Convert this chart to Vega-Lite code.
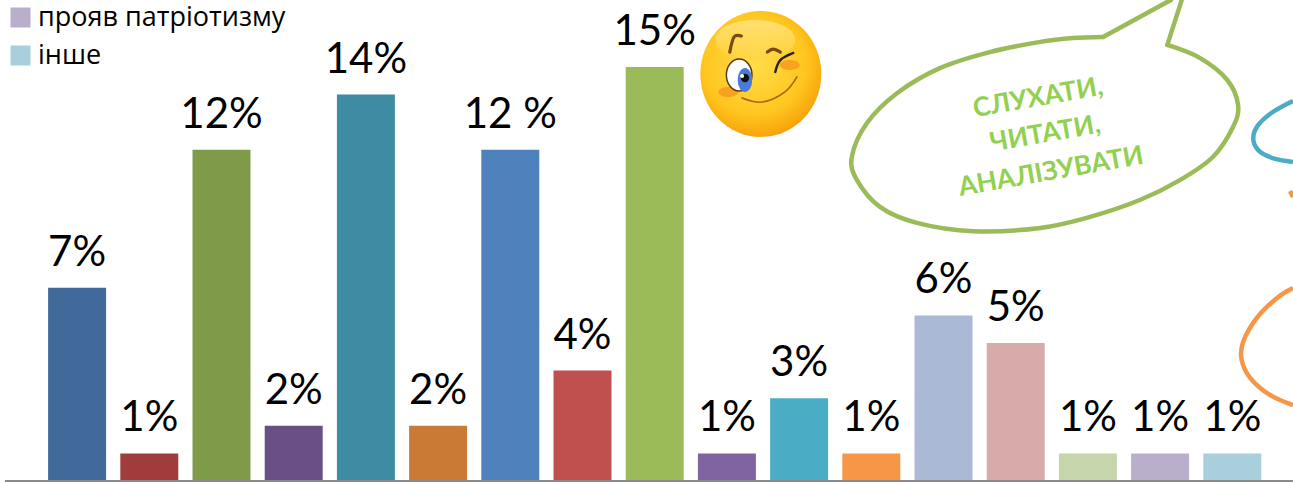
{
"$schema":"https://vega.github.io/schema/vega-lite/v6.json",
"width":1293,"height":482,"padding":0,"autosize":{"type":"none"},"background":"white",
"config":{"view":{"stroke":null}},
"datasets":{
"bars":[
{"category":"категорія 1","value":7,"label":"7%"},
{"category":"категорія 2","value":1,"label":"1%"},
{"category":"категорія 3","value":12,"label":"12%"},
{"category":"категорія 4","value":2,"label":"2%"},
{"category":"категорія 5","value":14,"label":"14%"},
{"category":"категорія 6","value":2,"label":"2%"},
{"category":"категорія 7","value":12,"label":"12 %"},
{"category":"категорія 8","value":4,"label":"4%"},
{"category":"категорія 9","value":15,"label":"15%"},
{"category":"категорія 10","value":1,"label":"1%"},
{"category":"категорія 11","value":3,"label":"3%"},
{"category":"категорія 12","value":1,"label":"1%"},
{"category":"категорія 13","value":6,"label":"6%"},
{"category":"категорія 14","value":5,"label":"5%"},
{"category":"категорія 15","value":1,"label":"1%"},
{"category":"прояв патріотизму","value":1,"label":"1%"},
{"category":"інше","value":1,"label":"1%"}],
"outlines":[
{"s":"bubble","i":0,"a":14.71,"b":16.09},{"s":"bubble","i":1,"a":14.29,"b":16.05},{"s":"bubble","i":2,"a":13.84,"b":15.91},{"s":"bubble","i":3,"a":13.14,"b":15.54},{"s":"bubble","i":4,"a":12.45,"b":14.96},{"s":"bubble","i":5,"a":11.86,"b":14.06},{"s":"bubble","i":6,"a":11.44,"b":12.97},{"s":"bubble","i":7,"a":11.23,"b":11.74},{"s":"bubble","i":8,"a":11.30,"b":10.91},{"s":"bubble","i":9,"a":11.62,"b":9.93},{"s":"bubble","i":10,"a":12.13,"b":9.35},{"s":"bubble","i":11,"a":12.91,"b":9.05},{"s":"bubble","i":12,"a":13.84,"b":9.17},{"s":"bubble","i":13,"a":14.53,"b":9.57},{"s":"bubble","i":14,"a":15.22,"b":10.18},{"s":"bubble","i":15,"a":15.78,"b":10.91},{"s":"bubble","i":16,"a":16.23,"b":11.74},{"s":"bubble","i":17,"a":16.51,"b":12.83},{"s":"bubble","i":18,"a":16.58,"b":13.62},{"s":"bubble","i":19,"a":16.43,"b":14.53},{"s":"bubble","i":20,"a":16.05,"b":15.33},{"s":"bubble","i":21,"a":15.60,"b":15.80},
{"s":"tailL","i":0,"a":14.71,"b":16.09},{"s":"tailL","i":1,"a":15.65,"b":17.43},
{"s":"tailR","i":0,"a":15.80,"b":17.43},{"s":"tailR","i":1,"a":15.60,"b":15.80},
{"s":"blue","i":0,"a":17.34,"b":13.77},{"s":"blue","i":1,"a":17.06,"b":13.37},{"s":"blue","i":2,"a":16.86,"b":12.90},{"s":"blue","i":3,"a":16.79,"b":12.43},{"s":"blue","i":4,"a":16.86,"b":11.99},{"s":"blue","i":5,"a":17.06,"b":11.70},{"s":"blue","i":6,"a":17.34,"b":11.56},
{"s":"orange","i":0,"a":17.34,"b":6.99},{"s":"orange","i":1,"a":17.12,"b":6.63},{"s":"orange","i":2,"a":16.84,"b":5.91},{"s":"orange","i":3,"a":16.65,"b":5.04},{"s":"orange","i":4,"a":16.63,"b":4.38},{"s":"orange","i":5,"a":16.75,"b":3.73},{"s":"orange","i":6,"a":17.02,"b":3.12},{"s":"orange","i":7,"a":17.34,"b":2.75},
{"s":"orangeTick","i":0,"a":17.30,"b":10.51},{"s":"orangeTick","i":1,"a":17.34,"b":10.29}],
"bubbleText":[
{"t":"СЛУХАТИ,","a":13.81,"b":13.88},{"t":"ЧИТАТИ,","a":13.91,"b":12.57},{"t":"АНАЛІЗУВАТИ","a":13.99,"b":11.20}],
"face":[
{"part":"face","a":9.97,"b":14.75},{"part":"gloss","a":9.89,"b":15.98},{"part":"cheek","a":9.52,"b":14.09},{"part":"cheek","a":10.37,"b":15.07},{"part":"eye","a":9.67,"b":14.71},{"part":"iris","a":9.75,"b":14.53},{"part":"pupil","a":9.75,"b":14.60},{"part":"glint","a":9.71,"b":14.67}],
"faceLines":[
{"s":"browL","i":0,"a":9.54,"b":15.54},{"s":"browL","i":1,"a":9.60,"b":16.09},{"s":"browL","i":2,"a":9.70,"b":16.12},
{"s":"browR","i":0,"a":10.06,"b":15.54},{"s":"browR","i":1,"a":10.14,"b":15.65},{"s":"browR","i":2,"a":10.24,"b":15.54},
{"s":"wink","i":0,"a":10.17,"b":14.82},{"s":"wink","i":1,"a":10.24,"b":15.25},{"s":"wink","i":2,"a":10.42,"b":15.51},
{"s":"smile","i":0,"a":9.71,"b":13.88},{"s":"smile","i":1,"a":9.99,"b":13.73},{"s":"smile","i":2,"a":10.30,"b":14.09},{"s":"smile","i":3,"a":10.47,"b":14.64}],
"baseline":[{"from":-0.5,"to":17.34,"level":0}]
},
"resolve":{"scale":{"x":"independent"}},
"layer":[
{"data":{"name":"bars"},"mark":{"type":"bar"},
 "encoding":{
 "x":{"field":"category","type":"nominal","sort":null,"axis":null,"scale":{"type":"band","range":[41,1268.4],"paddingInner":0.197,"paddingOuter":0.0985}},
 "y":{"field":"value","type":"quantitative","axis":null,"scale":{"domain":[0,15],"range":[481,67],"nice":false,"zero":true}},
 "color":{"field":"category","type":"nominal","sort":null,
  "scale":{"domain":["категорія 1","категорія 2","категорія 3","категорія 4","категорія 5","категорія 6","категорія 7","категорія 8","категорія 9","категорія 10","категорія 11","категорія 12","категорія 13","категорія 14","категорія 15","прояв патріотизму","інше"],
  "range":["#41699A","#9E3D3B","#7F9A48","#6A4F85","#3D8CA3","#CB7A35","#4F81BD","#C0504D","#9BBB59","#8064A2","#4BACC6","#F79646","#AAB9D6","#D9AAAA","#C6D5AB","#B9AFCA","#A9CEDC"]},
  "legend":{"orient":"none","legendX":7,"legendY":4,"title":null,"values":["прояв патріотизму","інше"],"symbolType":"square","symbolSize":400,"symbolStrokeWidth":0,"labelFont":"Open Sans","labelFontSize":27,"labelColor":"#000000","labelLimit":400,"labelOffset":4,"rowPadding":10,"padding":0}}
 }},
{"data":{"name":"bars"},"mark":{"type":"text","font":"Lato","fontSize":42,"color":"#000000","baseline":"alphabetic","dy":-22},
 "encoding":{
 "x":{"field":"category","type":"nominal","sort":null,"axis":null,"scale":{"type":"band","range":[41,1268.4],"paddingInner":0.197,"paddingOuter":0.0985}},
 "y":{"field":"value","type":"quantitative","axis":null},
 "text":{"field":"label"}}},
{"data":{"name":"baseline"},"mark":{"type":"rule","color":"#898989","strokeWidth":2},
 "encoding":{
 "x":{"field":"from","type":"quantitative","axis":null,"scale":{"domain":[0,17],"range":[41,1268.4],"nice":false,"zero":false}},
 "x2":{"field":"to"},
 "y":{"field":"level","type":"quantitative","axis":null}}},
{"data":{"name":"outlines"},"transform":[{"filter":"datum.s==='bubble'"}],"mark":{"type":"line","color":"#9BBB59","strokeWidth":4.5,"interpolate":"cardinal","strokeCap":"round"},
 "encoding":{
 "x":{"field":"a","type":"quantitative","axis":null,"scale":{"domain":[0,17],"range":[41,1268.4],"nice":false,"zero":false}},
 "y":{"field":"b","type":"quantitative","axis":null},
 "order":{"field":"i"}}},
{"data":{"name":"outlines"},"transform":[{"filter":"datum.s==='tailL'||datum.s==='tailR'"}],"mark":{"type":"line","color":"#9BBB59","strokeWidth":4.5,"strokeCap":"round"},
 "encoding":{
 "x":{"field":"a","type":"quantitative","axis":null,"scale":{"domain":[0,17],"range":[41,1268.4],"nice":false,"zero":false}},
 "y":{"field":"b","type":"quantitative","axis":null},
 "detail":{"field":"s"},
 "order":{"field":"i"}}},
{"data":{"name":"outlines"},"transform":[{"filter":"datum.s==='blue'"}],"mark":{"type":"line","color":"#4BACC6","strokeWidth":4.5,"interpolate":"cardinal"},
 "encoding":{
 "x":{"field":"a","type":"quantitative","axis":null,"scale":{"domain":[0,17],"range":[41,1268.4],"nice":false,"zero":false}},
 "y":{"field":"b","type":"quantitative","axis":null},
 "order":{"field":"i"}}},
{"data":{"name":"outlines"},"transform":[{"filter":"datum.s==='orange'||datum.s==='orangeTick'"}],"mark":{"type":"line","color":"#F79646","strokeWidth":4.5,"interpolate":"cardinal"},
 "encoding":{
 "x":{"field":"a","type":"quantitative","axis":null,"scale":{"domain":[0,17],"range":[41,1268.4],"nice":false,"zero":false}},
 "y":{"field":"b","type":"quantitative","axis":null},
 "detail":{"field":"s"},
 "order":{"field":"i"}}},
{"data":{"name":"bubbleText"},"mark":{"type":"text","font":"Lato","fontWeight":"bold","fontSize":26.5,"color":"#92D050","angle":350,"align":"center","baseline":"middle"},
 "encoding":{
 "x":{"field":"a","type":"quantitative","axis":null,"scale":{"domain":[0,17],"range":[41,1268.4],"nice":false,"zero":false}},
 "y":{"field":"b","type":"quantitative","axis":null},
 "text":{"field":"t"}}},
{"data":{"name":"face"},"transform":[{"filter":"datum.part==='face'"}],
 "mark":{"type":"point","filled":true,"opacity":1,"size":15876,"shape":"M-0.96,0A0.96,1 0 1,1 0.96,0A0.96,1 0 1,1 -0.96,0Z",
  "fill":{"gradient":"radial","x1":0.45,"y1":0.42,"r1":0,"x2":0.45,"y2":0.42,"r2":0.62,"stops":[{"offset":0,"color":"#FFDD4A"},{"offset":0.65,"color":"#FFC61F"},{"offset":1,"color":"#F59C06"}]}},
 "encoding":{
 "x":{"field":"a","type":"quantitative","axis":null,"scale":{"domain":[0,17],"range":[41,1268.4],"nice":false,"zero":false}},
 "y":{"field":"b","type":"quantitative","axis":null}}},
{"data":{"name":"face"},"transform":[{"filter":"datum.part==='gloss'"}],
 "mark":{"type":"point","filled":true,"opacity":1,"size":6400,"shape":"M-1,0A1,0.5 0 1,1 1,0A1,0.5 0 1,1 -1,0Z",
  "fill":{"gradient":"linear","x1":0.5,"y1":0,"x2":0.5,"y2":1,"stops":[{"offset":0,"color":"#FFF3B0"},{"offset":1,"color":"#FFD23F"}]},"fillOpacity":0.55},
 "encoding":{
 "x":{"field":"a","type":"quantitative","axis":null,"scale":{"domain":[0,17],"range":[41,1268.4],"nice":false,"zero":false}},
 "y":{"field":"b","type":"quantitative","axis":null}}},
{"data":{"name":"face"},"transform":[{"filter":"datum.part==='cheek'"}],
 "mark":{"type":"point","filled":true,"opacity":0.75,"size":400,"color":"#F7931E","shape":"M-1,0A1,0.5 0 1,1 1,0A1,0.5 0 1,1 -1,0Z"},
 "encoding":{
 "x":{"field":"a","type":"quantitative","axis":null,"scale":{"domain":[0,17],"range":[41,1268.4],"nice":false,"zero":false}},
 "y":{"field":"b","type":"quantitative","axis":null}}},
{"data":{"name":"face"},"transform":[{"filter":"datum.part==='eye'"}],
 "mark":{"type":"point","filled":true,"opacity":1,"size":1024,"fill":"#FFFFFF","stroke":"#5A3A12","strokeWidth":1.5,"shape":"M-0.8,0A0.8,1 0 1,1 0.8,0A0.8,1 0 1,1 -0.8,0Z"},
 "encoding":{
 "x":{"field":"a","type":"quantitative","axis":null,"scale":{"domain":[0,17],"range":[41,1268.4],"nice":false,"zero":false}},
 "y":{"field":"b","type":"quantitative","axis":null}}},
{"data":{"name":"face"},"transform":[{"filter":"datum.part==='iris'"}],
 "mark":{"type":"point","filled":true,"opacity":1,"size":576,"color":"#4A7BDB","shape":"M-0.6,0A0.6,1 0 1,1 0.6,0A0.6,1 0 1,1 -0.6,0Z"},
 "encoding":{
 "x":{"field":"a","type":"quantitative","axis":null,"scale":{"domain":[0,17],"range":[41,1268.4],"nice":false,"zero":false}},
 "y":{"field":"b","type":"quantitative","axis":null}}},
{"data":{"name":"face"},"transform":[{"filter":"datum.part==='pupil'"}],
 "mark":{"type":"point","filled":true,"opacity":1,"size":70,"color":"#111111","shape":"circle"},
 "encoding":{
 "x":{"field":"a","type":"quantitative","axis":null,"scale":{"domain":[0,17],"range":[41,1268.4],"nice":false,"zero":false}},
 "y":{"field":"b","type":"quantitative","axis":null}}},
{"data":{"name":"face"},"transform":[{"filter":"datum.part==='glint'"}],
 "mark":{"type":"point","filled":true,"opacity":1,"size":16,"color":"#FFFFFF","shape":"circle"},
 "encoding":{
 "x":{"field":"a","type":"quantitative","axis":null,"scale":{"domain":[0,17],"range":[41,1268.4],"nice":false,"zero":false}},
 "y":{"field":"b","type":"quantitative","axis":null}}},
{"data":{"name":"faceLines"},"transform":[{"filter":"datum.s==='browL'||datum.s==='browR'"}],"mark":{"type":"line","color":"#7A4A10","strokeWidth":3.2,"interpolate":"cardinal","strokeCap":"round"},
 "encoding":{
 "x":{"field":"a","type":"quantitative","axis":null,"scale":{"domain":[0,17],"range":[41,1268.4],"nice":false,"zero":false}},
 "y":{"field":"b","type":"quantitative","axis":null},
 "detail":{"field":"s"},
 "order":{"field":"i"}}},
{"data":{"name":"faceLines"},"transform":[{"filter":"datum.s==='wink'"}],"mark":{"type":"line","color":"#2A2015","strokeWidth":2.4,"interpolate":"cardinal","strokeCap":"round"},
 "encoding":{
 "x":{"field":"a","type":"quantitative","axis":null,"scale":{"domain":[0,17],"range":[41,1268.4],"nice":false,"zero":false}},
 "y":{"field":"b","type":"quantitative","axis":null},
 "order":{"field":"i"}}},
{"data":{"name":"faceLines"},"transform":[{"filter":"datum.s==='smile'"}],"mark":{"type":"line","color":"#A8640E","strokeWidth":1.6,"interpolate":"cardinal","strokeCap":"round"},
 "encoding":{
 "x":{"field":"a","type":"quantitative","axis":null,"scale":{"domain":[0,17],"range":[41,1268.4],"nice":false,"zero":false}},
 "y":{"field":"b","type":"quantitative","axis":null},
 "order":{"field":"i"}}}
]
}
